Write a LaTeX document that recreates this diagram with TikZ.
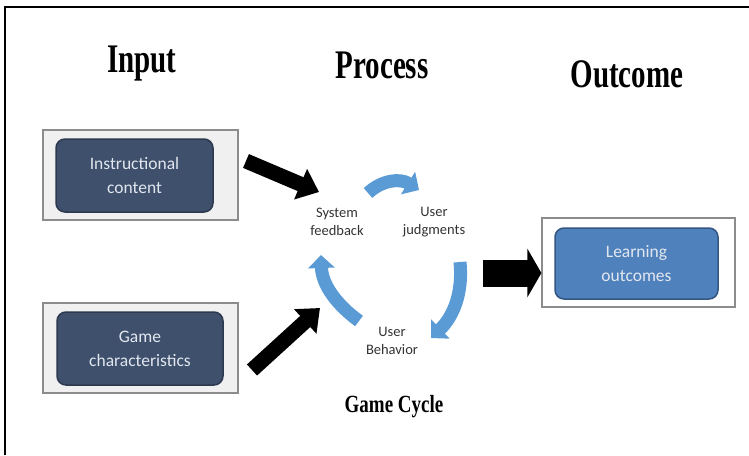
\documentclass[tikz,border=0pt]{standalone}
\usepackage{fontspec}
\setmainfont{Liberation Serif}
\newfontfamily\calibri{Carlito}
\usetikzlibrary{arrows.meta}

\definecolor{inbox}{RGB}{62,80,108}
\definecolor{inboxline}{RGB}{44,57,78}
\definecolor{outbox}{RGB}{79,129,189}
\definecolor{outboxline}{RGB}{52,86,130}
\definecolor{cyclearrow}{RGB}{91,155,213}
\definecolor{framegray}{RGB}{140,140,140}
\definecolor{boxtext}{RGB}{226,231,239}

\tikzset{
  heading/.style={font=\bfseries\fontsize{29}{34}\selectfont},
  framebox/.style={draw=framegray, line width=1.2pt, fill=gray!12,
    minimum width=195pt, minimum height=90pt},
  inputbox/.style={draw=inboxline, line width=1.5pt, fill=inbox,
    rounded corners=9pt, text=boxtext, align=center,
    font=\calibri\fontsize{17.5}{24}\selectfont},
  cyclelabel/.style={text=black!80, align=center,
    font=\calibri\fontsize{14.5}{18}\selectfont},
  bigarrow/.style={line width=15pt, -{Triangle[width=32pt,length=20pt]}},
  cyclearr/.style={cyclearrow, line width=13pt,
    -{Triangle[width=26pt,length=13pt]}},
}

\begin{document}
\begin{tikzpicture}[x=1pt, y=-1pt]
    \useasboundingbox (0,0) rectangle (749,455);
    % Frame
    \draw[line width=1.5pt] (5,455) -- (5,7) -- (749,7);

    % Headings
    \node[heading] (hinput) at (142,64) {\scalebox{1}[1.4]{Input}};
    \node[heading] (hprocess) at (382,65) {\scalebox{1}[1.4]{Process}};
    \node[heading] (houtcome) at (627,74) {\scalebox{1}[1.4]{Outcome}};

    % Input boxes
    \node[framebox] (instrframe) at (140.5,175) {};
    \node[inputbox, minimum width=157pt, minimum height=73pt] (instr)
        at (134.5,175.5) {Instructional\\content};
    \node[framebox] (gameframe) at (140.5,348) {};
    \node[inputbox, minimum width=166pt, minimum height=73pt] (game)
        at (140,348.5) {Game\\characteristics};

    % Outcome box
    \node[framebox, fill=white, minimum width=193pt, minimum height=89pt]
        (learnframe) at (638.5,262.5) {};
    \node[inputbox, fill=outbox, draw=outboxline, minimum width=163pt,
        minimum height=71pt] (learn) at (636.5,263.5) {Learning\\outcomes};

    % Game cycle
    \node[cyclelabel] (sysfb) at (337,222) {System\\feedback};
    \node[cyclelabel] (userjudg) at (434,222) {User\\judgments};
    \node[cyclelabel] (userbeh) at (392,341) {User\\Behavior};
    \node[font=\bfseries\fontsize{19}{22}\selectfont] (cycle)
        at (394,407) {\scalebox{1}[1.3]{Game Cycle}};

    \coordinate (c1s) at (368,193);
    \coordinate (c1e) at (419,190);
    \coordinate (c2s) at (460,262);
    \coordinate (c2e) at (431,338);
    \coordinate (c3s) at (359,321);
    \coordinate (c3e) at (321,255);
    \draw[cyclearr] (c1s) .. controls (382,180) and (400,178) .. (c1e);
    \draw[cyclearr] (c2s) .. controls (463,292) and (454,316) .. (c2e);
    \draw[cyclearr] (c3s) .. controls (337,305) and (322,285) .. (c3e);

    % Black arrows
    \coordinate (a1s) at (246,161);
    \coordinate (a1e) at (319,192);
    \coordinate (a2s) at (252,370);
    \coordinate (a2e) at (320,308);
    \coordinate (a3s) at (483,273);
    \draw[bigarrow] (a1s) -- (a1e);
    \draw[bigarrow] (a2s) -- (a2e);
    \draw[line width=27pt, -{Triangle[width=48pt,length=14pt]}]
        (a3s) -- (learnframe.west |- a3s);
\end{tikzpicture}
\end{document}
